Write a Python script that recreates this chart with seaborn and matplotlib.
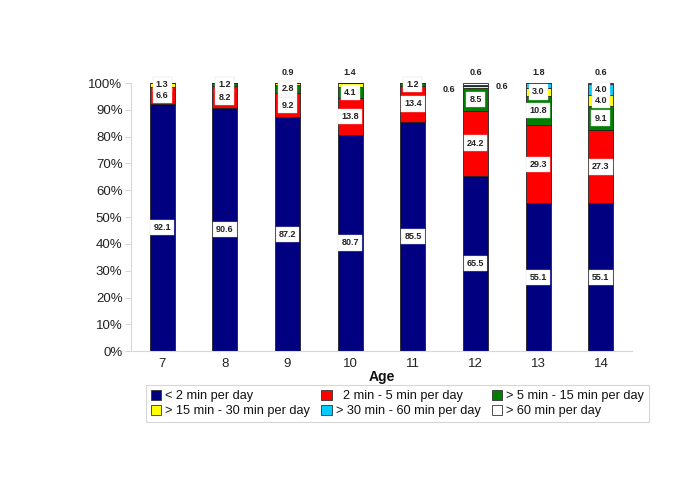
import matplotlib
matplotlib.use("Agg")
import matplotlib.pyplot as plt
import seaborn as sns
import numpy as np
import pandas as pd
from matplotlib.patches import Patch
from matplotlib.ticker import PercentFormatter

ages = [7, 8, 9, 10, 11, 12, 13, 14]
series_names = ["< 2 min per day", "  2 min - 5 min per day", "> 5 min - 15 min per day",
                "> 15 min - 30 min per day", "> 30 min - 60 min per day", "> 60 min per day"]
lt2 = [92.1, 90.6, 87.2, 80.7, 85.5, 65.5, 55.1, 55.1]
m2_5 = [6.6, 8.2, 9.2, 13.8, 13.4, 24.2, 29.3, 27.3]
m5_15 = [0.0, 1.2, 2.8, 4.1, 1.2, 8.5, 10.8, 9.1]
m15_30 = [1.3, 0.0, 0.9, 1.4, 0.0, 0.6, 3.0, 4.0]
m30_60 = [0.0, 0.0, 0.0, 0.0, 0.0, 0.6, 1.8, 4.0]
gt60 = [0.0, 0.0, 0.0, 0.0, 0.0, 0.6, 0.0, 0.6]
series = [lt2, m2_5, m5_15, m15_30, m30_60, gt60]
colors = ["#000080", "#FF0000", "#008000", "#FFFF00", "#00CCFF", "#FFFFFF"]

# label placement overrides: (age index, series index) -> mode
special = {
    (2, 3): "above",
    (3, 3): "above",
    (6, 4): "above",
    (7, 5): "above",
    (5, 3): "left",
    (5, 4): "right",
    (5, 5): "above",
}

sns.set_style("white")
plt.rcParams['font.family'] = ['Liberation Sans', 'DejaVu Sans']

fig = plt.figure(figsize=(6.85, 4.83), dpi=100)
ax = fig.add_axes([0.191, 0.273, 0.732, 0.555])

bottom = np.zeros(len(ages))
for s, (vals, col) in enumerate(zip(series, colors)):
    df = pd.DataFrame({"age": [str(a) for a in ages], "val": vals})
    sns.barplot(data=df, x="age", y="val", color=col, bottom=bottom.copy(), width=0.4,
                edgecolor="#222222", linewidth=0.6, ax=ax, saturation=1)
    bottom = bottom + np.array(vals)

lab_kw = dict(fontsize=6.5, fontweight="bold", color="#222222", clip_on=False)
bottom = np.zeros(len(ages))
for s, vals in enumerate(series):
    for i, v in enumerate(vals):
        if v <= 0:
            continue
        key = (i, s)
        txt = f"{v:.1f}"
        mode = special.get(key)
        if mode == "above":
            ax.text(i, 102.3, txt, ha="center", va="bottom", **lab_kw)
        elif mode == "left":
            ax.text(i - 0.42, 97.5, txt, ha="center", va="center", **lab_kw)
        elif mode == "right":
            ax.text(i + 0.42, 98.8, txt, ha="center", va="center", **lab_kw)
        else:
            y = bottom[i] + v / 2
            ax.text(i, y, txt, ha="center", va="center",
                    bbox=dict(boxstyle="square,pad=0.35", facecolor="white",
                              edgecolor="#dddddd", linewidth=0.3), **lab_kw)
    bottom = bottom + np.array(vals)

ax.set_ylim(0, 100)
ax.set_xlim(-0.5, len(ages) - 0.5)
ax.yaxis.set_major_locator(matplotlib.ticker.MultipleLocator(10))
ax.yaxis.set_major_formatter(PercentFormatter(decimals=0))
ax.set_ylabel("")
ax.set_xlabel("Age", fontsize=10, fontweight="bold", color="#111111", labelpad=0)
ax.tick_params(axis="y", length=4, width=0.6, color="#cccccc", labelsize=9.5,
               labelcolor="#222222", pad=2, left=True)
ax.tick_params(axis="x", length=0, labelsize=9.5, labelcolor="#222222", pad=5)
for side in ["top", "right"]:
    ax.spines[side].set_visible(False)
for side in ["left", "bottom"]:
    ax.spines[side].set_color("#d8d8d8")
    ax.spines[side].set_linewidth(0.8)

order = [0, 3, 1, 4, 2, 5]
handles = [Patch(facecolor=colors[k], edgecolor="#333333", linewidth=0.6) for k in order]
labels = [series_names[k] for k in order]
leg = fig.legend(handles, labels, ncol=3, loc="upper left",
                 bbox_to_anchor=(0.213, 0.203),
                 fontsize=9.2, frameon=True, fancybox=False, handlelength=0.8,
                 handleheight=0.8, handletextpad=0.3, borderpad=0.4,
                 labelspacing=0.2, columnspacing=0.9, borderaxespad=0)
leg.get_frame().set_edgecolor("#cccccc")
leg.get_frame().set_linewidth(0.8)
for t in leg.get_texts():
    t.set_color("#111111")

fig.savefig("out.png", dpi=100)
